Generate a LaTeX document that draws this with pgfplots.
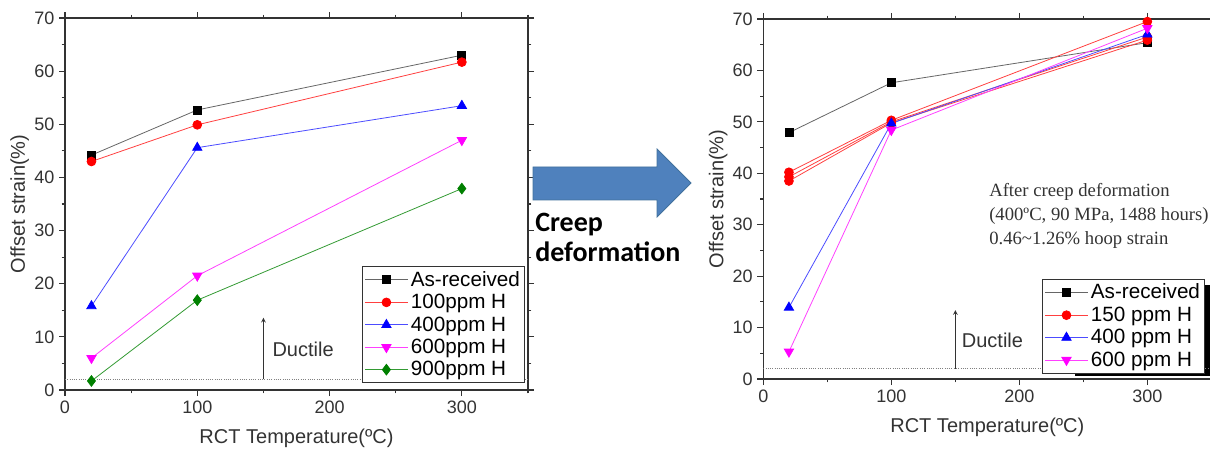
\documentclass[border=0pt]{standalone}
\usepackage{pgfplots}
\pgfplotsset{compat=1.18}
\usepackage{fontspec}
\setmainfont{Liberation Sans}
\newfontfamily\timesf{Liberation Serif}
\newfontfamily\calib{Carlito}
\definecolor{axgray}{HTML}{333333}
\definecolor{arrowblue}{HTML}{4F81BD}
\definecolor{arrowedge}{HTML}{41719C}
\definecolor{dgreen}{HTML}{008000}
\definecolor{mag}{HTML}{FF00FF}

\pgfplotsset{
  legend image code/.code={\draw[mark repeat=2,mark phase=2,#1] plot coordinates {(0pt,0pt) (16pt,0pt) (32pt,0pt)};},
  mystyle/.style={
    scale only axis,
    xmin=0,xmax=350,ymin=0,ymax=70,
    xtick={0,100,200,300}, minor xtick={50,150,250,350},
    ytick={0,10,...,70}, minor ytick={5,15,...,65},
    tick align=outside,
    major tick length=4.5pt, minor tick length=2.5pt,
    axis line style={axgray, line width=0.9pt},
    every tick/.style={axgray, line width=0.8pt},
    tick label style={font=\fontsize{13.5}{16}\selectfont, text=axgray},
    /pgf/number format/assume math mode=true,
    xlabel={RCT Temperature(ºC)},
    ylabel={Offset strain(\%)},
    xlabel style={yshift=-5pt},
    ylabel style={yshift=-3pt},
    label style={font=\fontsize{15}{18}\selectfont, text=axgray},
    legend cell align=left,
    legend style={font=\fontsize{15.5}{18}\selectfont, draw=axgray, line width=0.6pt, inner sep=1.5pt, row sep=0.5pt, fill=white},
  },
  sblack/.style={gray!80!black, line width=0.6pt, mark=square*, mark size=3pt, mark options={solid, fill=black, draw=black}},
  sred/.style={red!75, line width=0.6pt, mark=*, mark size=3.3pt, mark options={solid, fill=red, draw=red}},
  sblue/.style={blue!70, line width=0.6pt, mark=triangle*, mark size=4pt, mark options={solid, fill=blue, draw=blue}},
  smag/.style={mag!75, line width=0.6pt, mark=triangle*, mark size=4pt, mark options={solid, rotate=180, fill=mag, draw=mag}},
  sgreen/.style={dgreen!80, line width=0.6pt, mark=diamond*, mark size=4pt, mark options={solid, fill=dgreen, draw=dgreen}},
}

\begin{document}
\begin{tikzpicture}
\path[use as bounding box] (0,0) rectangle (907.5pt,337.5pt);
\clip (0,0) rectangle (907.5pt,337.5pt);

% ---------------- left axis ----------------
\begin{axis}[mystyle, at={(48.75pt,45pt)}, anchor=south west, width=347.25pt, height=279pt,
  legend style={at={(0.9935,0.333)}, anchor=north east}]
\addplot[forget plot, gray, densely dotted, line width=0.7pt] coordinates {(0,2) (350,2)};
\addplot[sblack] coordinates {(20,44.2) (100,52.7) (300,63.0)};
\addlegendentry{As-received}
\addplot[sred] coordinates {(20,43.0) (100,49.9) (300,61.7)};
\addlegendentry{100ppm H}
\addplot[sblue] coordinates {(20,15.8) (100,45.6) (300,53.5)};
\addlegendentry{400ppm H}
\addplot[smag] coordinates {(20,6.0) (100,21.5) (300,47.0)};
\addlegendentry{600ppm H}
\addplot[sgreen] coordinates {(20,1.7) (100,16.9) (300,37.9)};
\addlegendentry{900ppm H}
\draw[-stealth, axgray, line width=0.6pt] (axis cs:150,2) -- (axis cs:150,13.6);
\node[font=\fontsize{15}{18}\selectfont, text=axgray] at (axis cs:180,7.6) {Ductile};
\end{axis}

% ---------------- arrow ----------------
\fill[arrowblue, draw=arrowedge, line width=0.6pt]
  (399.75pt,212.25pt) -- (492.75pt,212.25pt) -- (492.75pt,225.75pt) -- (518.25pt,200.25pt)
  -- (492.75pt,174.75pt) -- (492.75pt,187.5pt) -- (399.75pt,187.5pt) -- cycle;
\node[anchor=base west, inner sep=0pt, font=\calib\bfseries\fontsize{21}{24}\selectfont] at (401.25pt,163.7pt) {Creep};
\node[anchor=base west, inner sep=0pt, font=\calib\bfseries\fontsize{21}{24}\selectfont] at (401.25pt,141.2pt) {deformation};

% legend shadow
\fill[black] (806.25pt,55.5pt) rectangle (907.5pt,123.75pt);

% ---------------- right axis ----------------
\begin{axis}[mystyle, at={(572.5pt,53.25pt)}, anchor=south west, width=336pt, height=270pt,
  legend style={at={(0.986,0.278)}, anchor=north east}]
\addplot[forget plot, gray, densely dotted, line width=0.7pt] coordinates {(0,2) (350,2)};
\addplot[sblack] coordinates {(20,47.9) (100,57.6) (300,65.4)};
\addlegendentry{As-received}
\addplot[sred] coordinates {(20,40.2) (100,50.3) (300,69.5)};
\addlegendentry{150 ppm H}
\addplot[sred, forget plot] coordinates {(20,39.3) (100,50.0) (300,66.5)};
\addplot[sred, forget plot] coordinates {(20,38.5) (100,49.8) (300,65.9)};
\addplot[sblue] coordinates {(20,13.9) (100,49.7) (300,67.0)};
\addlegendentry{400 ppm H}
\addplot[smag] coordinates {(20,5.3) (100,48.4) (300,68.2)};
\addlegendentry{600 ppm H}
\draw[-stealth, axgray, line width=0.6pt] (axis cs:150,2) -- (axis cs:150,13.4);
\node[font=\fontsize{15}{18}\selectfont, text=axgray] at (axis cs:179,7.6) {Ductile};
\end{axis}

% annotation text
\node[anchor=base west, inner sep=0pt, font=\timesf\fontsize{14}{17}\selectfont, text=axgray] at (741.75pt,189.75pt) {After creep deformation};
\node[anchor=base west, inner sep=0pt, font=\timesf\fontsize{14}{17}\selectfont, text=axgray] at (741.75pt,171.75pt) {(400ºC, 90 MPa, 1488 hours)};
\node[anchor=base west, inner sep=0pt, font=\timesf\fontsize{14}{17}\selectfont, text=axgray] at (741.75pt,153.75pt) {0.46\textasciitilde 1.26\% hoop strain};
\end{tikzpicture}
\end{document}
